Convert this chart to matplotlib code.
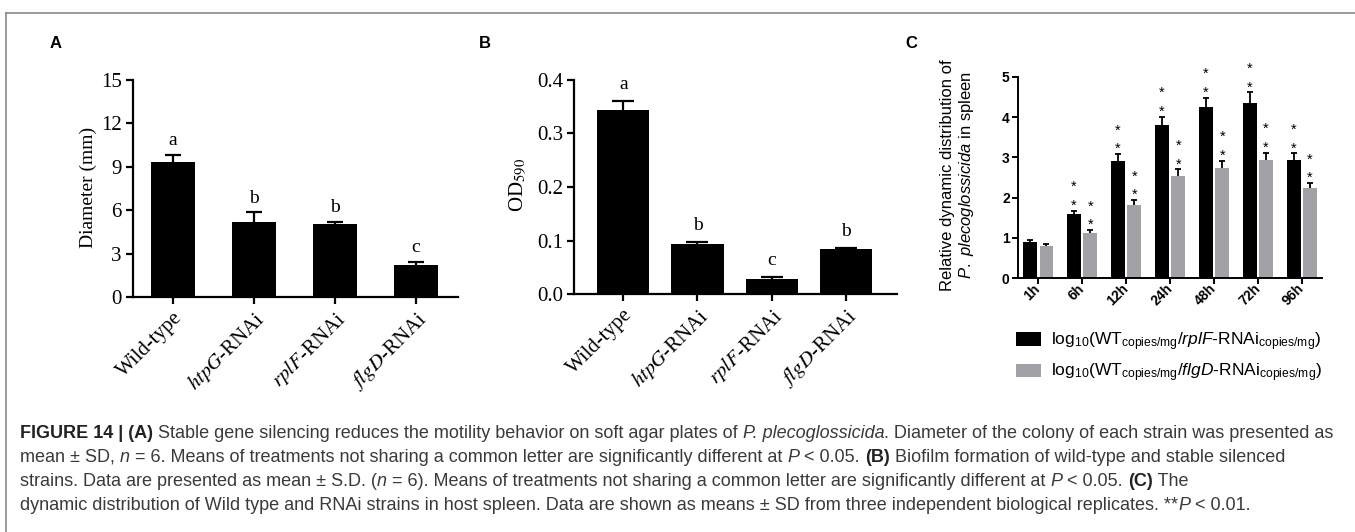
#!/usr/bin/env python3

'''
Figure 14: motility (A), biofilm (B) and spleen distribution (C) of the
RNAi strains of P. plecoglossicida.
'''

import numpy as np
import matplotlib
matplotlib.use('Agg')
import matplotlib.pyplot as plt
from matplotlib.lines import Line2D
from matplotlib.patches import Patch
from matplotlib.transforms import IdentityTransform

plt.rcParams['mathtext.fontset'] = 'custom'
plt.rcParams['mathtext.rm'] = 'Liberation Sans'
plt.rcParams['mathtext.it'] = 'Liberation Sans:italic'
plt.rcParams['mathtext.bf'] = 'Liberation Sans:bold'

# ---- data ----
strain_labels = ['Wild-type', r'$\mathit{htpG}$-RNAi', r'$\mathit{rplF}$-RNAi',
                 r'$\mathit{flgD}$-RNAi']

diam_mean = [9.31, 5.20, 5.04, 2.21]
diam_sd = [0.51, 0.65, 0.16, 0.23]
diam_letters = ['a', 'b', 'b', 'c']

od_mean = [0.343, 0.093, 0.028, 0.0835]
od_sd = [0.018, 0.004, 0.004, 0.0025]
od_letters = ['a', 'b', 'c', 'b']

times = ['1h', '6h', '12h', '24h', '48h', '72h', '96h']
rplf_mean = [0.91, 1.60, 2.92, 3.80, 4.24, 4.36, 2.94]
rplf_sd = [0.04, 0.08, 0.16, 0.21, 0.24, 0.25, 0.16]
flgd_mean = [0.81, 1.13, 1.82, 2.53, 2.73, 2.93, 2.23]
flgd_sd = [0.03, 0.07, 0.12, 0.17, 0.19, 0.19, 0.14]
signif = [False, True, True, True, True, True, True]

legend_labels = [
    r'log$_{10}$(WT$_{\mathrm{copies/mg}}$/$\mathit{rplF}$-RNAi$_{\mathrm{copies/mg}}$)',
    r'log$_{10}$(WT$_{\mathrm{copies/mg}}$/$\mathit{flgD}$-RNAi$_{\mathrm{copies/mg}}$)',
]

caption = [
    [('FIGURE 14 | (A)', 'b'),
     (' Stable gene silencing reduces the motility behavior on soft agar plates of ', 'n'),
     ('P. plecoglossicida', 'i'),
     ('. Diameter of the colony of each strain was presented as', 'n')],
    [('mean \u00b1 SD, ', 'n'), ('n', 'i'),
     (' = 6. Means of treatments not sharing a common letter are significantly different at ', 'n'),
     ('P', 'i'), (' < 0.05. ', 'n'), ('(B)', 'b'),
     (' Biofilm formation of wild-type and stable silenced', 'n')],
    [('strains. Data are presented as mean \u00b1 S.D. (', 'n'), ('n', 'i'),
     (' = 6). Means of treatments not sharing a common letter are significantly different at ', 'n'),
     ('P', 'i'), (' < 0.05. ', 'n'), ('(C)', 'b'), (' The', 'n')],
    [('dynamic distribution of Wild type and RNAi strains in host spleen. Data are shown as '
      'means \u00b1 SD from three independent biological replicates. **', 'n'),
     ('P', 'i'), (' < 0.01.', 'n')],
]

W, H = 1355, 532
fig = plt.figure(figsize=(W / 100, H / 100), dpi=100)


def px_axes(left, top, right, bottom):
    return fig.add_axes([left / W, 1 - bottom / H, (right - left) / W,
                         (bottom - top) / H])


def style_serif_axes(ax):
    for s in ['top', 'right']:
        ax.spines[s].set_visible(False)
    for s in ['left', 'bottom']:
        ax.spines[s].set_linewidth(1.6)
    ax.tick_params(width=1.6, length=5, labelsize=15, pad=3)
    for lab in ax.get_yticklabels():
        lab.set_fontfamily('Liberation Serif')


def upper_errorbars(ax, x, mean, sd, capsize, lw):
    eb = ax.errorbar(x, mean, yerr=[np.zeros(len(sd)), sd], fmt='none',
                     ecolor='black', elinewidth=lw, capsize=capsize,
                     capthick=lw, zorder=1)
    for cap in eb[1]:
        if np.allclose(cap.get_ydata(), mean):
            cap.set_visible(False)


def serif_bar_panel(ax, mean, sd, letters, width, capsize, letter_off):
    x = np.arange(len(mean))
    ax.bar(x, mean, width=width, color='black', zorder=2)
    upper_errorbars(ax, x, mean, sd, capsize, 1.6)
    for xi, m, s, let in zip(x, mean, sd, letters):
        ax.annotate(let, (xi, m + s), xytext=(0, letter_off),
                    textcoords='offset points', ha='center', va='bottom',
                    fontsize=14, fontfamily='Liberation Serif')
    ax.set_xticks(x)
    ax.set_xticklabels(strain_labels, rotation=45, ha='right', va='top',
                       rotation_mode='anchor', fontsize=15,
                       fontfamily='Liberation Serif', math_fontfamily='stix')
    style_serif_axes(ax)


# ---- panel A ----
axA = px_axes(133, 80, 458, 297)
serif_bar_panel(axA, diam_mean, diam_sd, diam_letters, 0.54, 5.8, 4)
axA.set_xlim(-0.49, 3.52)
axA.set_ylim(0, 15)
axA.set_yticks([0, 3, 6, 9, 12, 15])
axA.set_ylabel('Diameter (mm)', fontsize=14, fontfamily='Liberation Serif')
axA.yaxis.set_label_coords(-0.11, 0.507)
style_serif_axes(axA)

# ---- panel B ----
axB = px_axes(574, 80, 897, 294)
serif_bar_panel(axB, od_mean, od_sd, od_letters, 0.705, 7.9, 6)
axB.set_xlim(-0.665, 3.69)
axB.set_ylim(0, 0.4)
axB.set_yticks([0, 0.1, 0.2, 0.3, 0.4])
axB.set_yticklabels(['0.0', '0.1', '0.2', '0.3', '0.4'])
axB.set_ylabel('OD$_{590}$', fontsize=15, fontfamily='Liberation Serif',
               math_fontfamily='stix')
axB.yaxis.set_label_coords(-0.143, 0.509)
style_serif_axes(axB)

# ---- panel C ----
axC = px_axes(1018, 76.7, 1321.7, 278.3)
xc = np.arange(len(times))
bw, off = 0.31, 0.185
gray = '#a2a2a6'
axC.bar(xc - off, rplf_mean, width=bw, color='black', zorder=2)
axC.bar(xc + off, flgd_mean, width=bw, color=gray, zorder=2)
upper_errorbars(axC, xc - off, rplf_mean, rplf_sd, 2.3, 1.3)
upper_errorbars(axC, xc + off, flgd_mean, flgd_sd, 2.3, 1.3)
for xs, mean, sd in [(xc - off, rplf_mean, rplf_sd), (xc + off, flgd_mean, flgd_sd)]:
    for xi, m, s, sig in zip(xs, mean, sd, signif):
        if not sig:
            continue
        for dy in (0.12, 0.58):
            axC.text(xi, m + s + dy, '*', ha='center', va='center',
                     fontsize=10.5, fontfamily='Liberation Sans')
axC.set_xlim(-0.46, 6.45)
axC.set_ylim(0, 5)
axC.set_yticks([0, 1, 2, 3, 4, 5])
axC.set_xticks(xc)
axC.set_xticklabels(times, rotation=45, ha='right', va='center',
                    rotation_mode='anchor')
for s in ['top', 'right']:
    axC.spines[s].set_visible(False)
for s in ['left', 'bottom']:
    axC.spines[s].set_linewidth(1.4)
axC.tick_params(width=1.4, length=4, labelsize=10, pad=2)
for lab in axC.get_xticklabels() + axC.get_yticklabels():
    lab.set_fontfamily('Liberation Sans')
    lab.set_fontweight('bold')
axC.set_ylabel('Relative dynamic distribution of\n'
               r'$\mathit{P.\ plecoglossicida}$ in spleen',
               fontsize=12, fontfamily='Liberation Sans', linespacing=1.15)
axC.yaxis.set_label_coords(-0.139, 0.51)

handles = [Patch(facecolor='black', edgecolor='none'),
           Patch(facecolor=gray, edgecolor='none')]
fig.legend(handles, legend_labels, loc='upper left',
           bbox_to_anchor=(1016 / W, 1 - 330 / H), frameon=False,
           prop={'family': 'Liberation Sans', 'size': 12.5},
           handlelength=1.45, handleheight=0.8, handletextpad=0.55,
           labelspacing=0.5, borderpad=0, borderaxespad=0)

# ---- panel letters ----
for lab, xp in [('A', 50), ('B', 479), ('C', 905)]:
    fig.text(xp / W, 1 - 48 / H, lab, fontsize=12, fontweight='bold',
             fontfamily='Liberation Sans', ha='left', va='baseline')

# ---- frame ----
fig.add_artist(Line2D([6 / W, 1], [1 - 13 / H, 1 - 13 / H],
                      transform=fig.transFigure, color='#8a8a8a', lw=1.2))
fig.add_artist(Line2D([6 / W, 6 / W], [0, 1 - 13 / H],
                      transform=fig.transFigure, color='#8a8a8a', lw=1.2))

# ---- caption ----
renderer = fig.canvas.get_renderer()
cap_kw = {'fontsize': 13, 'fontfamily': 'Liberation Sans', 'color': '#3a3a3a',
          'va': 'center', 'ha': 'left'}


def run_kw(style):
    kw = dict(cap_kw)
    if style == 'b':
        kw['fontweight'] = 'bold'
        kw['color'] = '#222222'
    elif style == 'i':
        kw['fontstyle'] = 'italic'
    return kw


def run_width(s, kw):
    t1 = fig.text(0, 0, s + '|', transform=IdentityTransform(), **kw)
    t2 = fig.text(0, 0, '|', transform=IdentityTransform(), **kw)
    w = t1.get_window_extent(renderer).width - t2.get_window_extent(renderer).width
    t1.remove()
    t2.remove()
    return w


for i, line in enumerate(caption):
    xpos = 20
    ypos = H - (433 + 24 * i)
    for s, style in line:
        kw = run_kw(style)
        fig.text(xpos, ypos, s, transform=IdentityTransform(), **kw)
        xpos += run_width(s, kw)

fig.savefig('out.png', dpi=100)
